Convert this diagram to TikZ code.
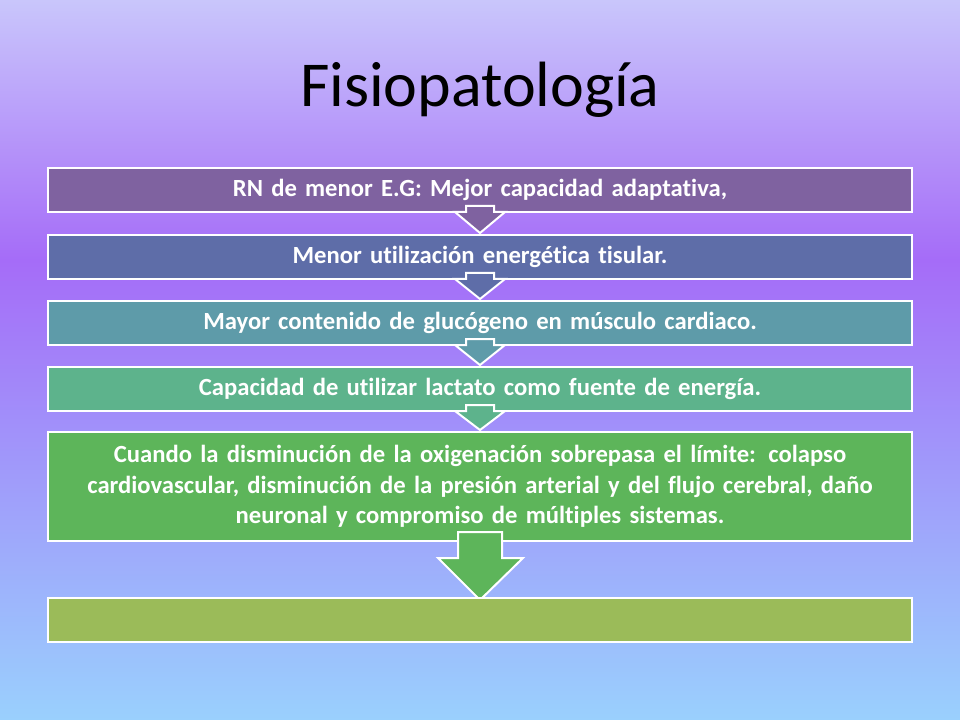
\documentclass[tikz,border=0pt]{standalone}
\usepackage{fontspec}
\setmainfont{Carlito}[BoldFont={Carlito Bold}, Ligatures=NoCommon]
\definecolor{bgtop}{HTML}{C9C6FB}
\definecolor{bgmid}{HTML}{A56CF8}
\definecolor{bgbot}{HTML}{9AD0FD}
\definecolor{barA}{HTML}{7F62A0}
\definecolor{barB}{HTML}{5E6DA8}
\definecolor{barC}{HTML}{5E9BA9}
\definecolor{barD}{HTML}{5DB38C}
\definecolor{barE}{HTML}{5DB55A}
\definecolor{barF}{HTML}{9BBB59}
\tikzset{
  bar/.style={draw=white, line width=1.5pt, inner sep=0pt, minimum width=648pt,
    text width=640pt, align=center, text=white, font=\bfseries\fontsize{18.5}{20}\selectfont},
  downarrow/.style={draw=white, line width=1.5pt, line join=miter}
}
\begin{document}
\begin{tikzpicture}[x=0.75pt, y=-0.75pt]
  \useasboundingbox (0,0) rectangle (960,720);
  \shade[top color=bgtop, bottom color=bgmid] (0,0) rectangle (960,260);
  \shade[top color=bgmid, bottom color=bgbot] (0,260) rectangle (960,720);
  \node (title) at (480,90) {\fontsize{48}{56}\selectfont Fisiopatología};
  % stages
  \node[bar, fill=barA, minimum height=33pt] (s1) at (480,190) {RN de menor E.G: Mejor capacidad adaptativa,};
  \draw[downarrow, fill=barA] (466,206) -- (494,206) -- (494,212) -- (505,212) -- (480,233) -- (455,212) -- (466,212) -- cycle;
  \node[bar, fill=barB, minimum height=33pt] (s2) at (480,257) {Menor utilización energética tisular.};
  \draw[downarrow, fill=barB] (466,273) -- (494,273) -- (494,279) -- (505,279) -- (480,299) -- (455,279) -- (466,279) -- cycle;
  \node[bar, fill=barC, minimum height=33pt] (s3) at (480,323) {Mayor contenido de glucógeno en músculo cardiaco.};
  \draw[downarrow, fill=barC] (466,339) -- (494,339) -- (494,345) -- (505,345) -- (480,365) -- (455,345) -- (466,345) -- cycle;
  \node[bar, fill=barD, minimum height=33pt] (s4) at (480,389) {Capacidad de utilizar lactato como fuente de energía.};
  \draw[downarrow, fill=barD] (466,405) -- (494,405) -- (494,411) -- (505,411) -- (480,430) -- (455,411) -- (466,411) -- cycle;
  \node[bar, fill=barE, minimum height=82pt, font=\bfseries\fontsize{18.5}{23}\selectfont] (s5) at (480,486.5) {Cuando la disminución de la oxigenación sobrepasa el límite: colapso\\ cardiovascular, disminución de la presión arterial y del flujo cerebral, daño\\ neuronal y compromiso de múltiples sistemas.};
  \draw[downarrow, fill=barE] (458,532) -- (502,532) -- (502,558) -- (523,558) -- (480,600) -- (438,558) -- (458,558) -- cycle;
  \node[bar, fill=barF, minimum height=33pt] (s6) at (480,620) {};
\end{tikzpicture}
\end{document}
